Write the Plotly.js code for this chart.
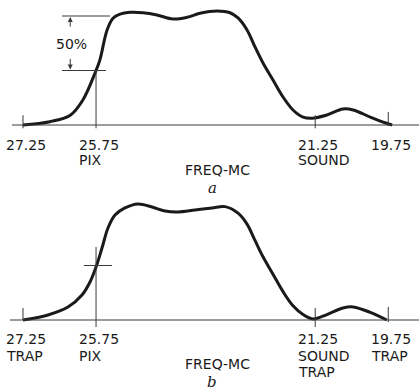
<!DOCTYPE html>
<html>
<head>
<meta charset="utf-8">
<script src="https://cdn.plot.ly/plotly-3.0.1.min.js"></script>
<style>html,body{margin:0;padding:0;background:#fff;}#chart{width:419px;height:392px;}</style>
</head>
<body>
<div id="chart"></div>
<script>
// Frequencies (MC) and relative response, panel a
const freqA = [27.25, 26.70, 26.28, 26.02, 25.75, 25.669, 25.525, 25.402, 25.258, 25.053, 24.786, 24.498, 24.17, 23.882, 23.615, 23.266, 22.999, 22.835, 22.65, 22.486, 22.322, 22.117, 21.911, 21.706, 21.50, 21.316, 21.01, 20.68, 20.47, 20.12, 19.80, 19.67];
const respA = [0.00, 0.03, 0.09, 0.23, 0.50, 0.60, 0.87, 0.98, 1.018, 1.034, 1.03, 1.009, 0.972, 0.988, 1.025, 1.046, 1.03, 0.982, 0.872, 0.716, 0.569, 0.413, 0.257, 0.138, 0.073, 0.062, 0.092, 0.147, 0.138, 0.073, 0.018, 0.00];
// panel b (with traps)
const freqB = [27.25, 26.737, 26.326, 26.039, 25.874, 25.75, 25.628, 25.505, 25.361, 25.156, 24.889, 24.601, 24.334, 24.067, 23.718, 23.369, 23.102, 22.835, 22.65, 22.486, 22.322, 22.117, 21.911, 21.706, 21.50, 21.30, 21.01, 20.68, 20.47, 20.12, 19.78];
const respB = [0.00, 0.046, 0.119, 0.229, 0.349, 0.486, 0.66, 0.844, 0.963, 1.028, 1.064, 1.037, 1.00, 0.991, 1.009, 1.028, 1.040, 0.98, 0.88, 0.73, 0.58, 0.42, 0.26, 0.13, 0.05, 0.01, 0.05, 0.11, 0.12, 0.07, 0.00];

// Tick labels
const tickFreqs = [27.25, 25.75, 21.25, 19.75];
const tickLabels = ['27.25', '25.75', '21.25', '19.75'];
const subLabelsA = [[], ['PIX'], ['SOUND'], []];
const subLabelsB = [['TRAP'], ['PIX'], ['SOUND', 'TRAP'], ['TRAP']];
const axisTitle = 'FREQ-MC';
const panelLetters = ['a', 'b'];
const halfLabel = '50%';

const ink = '#1a1a1a';
const thin = '#3a3a3a';
const font = {family: 'DejaVu Sans, sans-serif', size: 14, color: ink};

const traces = [
  {x: freqA, y: respA, yaxis: 'y', mode: 'lines', line: {color: ink, width: 3, shape: 'spline', smoothing: 1}, hoverinfo: 'skip'},
  {x: freqB, y: respB, yaxis: 'y2', mode: 'lines', line: {color: ink, width: 3, shape: 'spline', smoothing: 1}, hoverinfo: 'skip'}
];

const shapes = [];
function seg(x0, x1, y0, y1, yref, xref) {
  shapes.push({type: 'line', xref: xref || 'x', yref: yref, x0: x0, x1: x1, y0: y0, y1: y1, line: {color: thin, width: 1}});
}
// baselines
seg(27.476, 19.0, 0, 0, 'y');
seg(27.517, 19.0, 0, 0, 'y2');
// panel a ticks
seg(tickFreqs[0], tickFreqs[0], -0.03, 0.09, 'y');
seg(tickFreqs[1], tickFreqs[1], -0.03, 0.5, 'y');
seg(tickFreqs[2], tickFreqs[2], -0.03, 0.09, 'y');
seg(tickFreqs[3], tickFreqs[3], -0.01, 0.12, 'y');
// 100% and 50% reference lines
seg(26.45, 25.464, 1.0, 1.0, 'y');
seg(26.45, 25.546, 0.5, 0.5, 'y');
// panel b ticks
seg(tickFreqs[0], tickFreqs[0], 0, 0.11, 'y2');
seg(tickFreqs[1], tickFreqs[1], -0.064, 0.67, 'y2');
seg(25.42, 26.0, 0.5, 0.5, 'y2');
seg(tickFreqs[2], tickFreqs[2], -0.064, 0.11, 'y2');
seg(tickFreqs[3], tickFreqs[3], -0.02, 0.12, 'y2');

const annotations = [];
function label(text, x, y, yref, opts) {
  annotations.push(Object.assign({text: text, x: x, y: y, xref: 'x', yref: yref, showarrow: false,
    xanchor: 'left', yanchor: 'middle', font: font, xshift: -19}, opts || {}));
}
const rowsA = [-0.1835, -0.321];
const rowsB = [-0.174, -0.330, -0.477];
tickFreqs.forEach((f, i) => {
  label(tickLabels[i], f, rowsA[0], 'y');
  subLabelsA[i].forEach((s, j) => label(s, f, rowsA[j + 1], 'y'));
  label(tickLabels[i], f, rowsB[0], 'y2');
  subLabelsB[i].forEach((s, j) => label(s, f, rowsB[j + 1], 'y2'));
});
label(axisTitle, 23.266, -0.413, 'y', {xanchor: 'center', xshift: 0});
label(axisTitle, 23.266, -0.404, 'y2', {xanchor: 'center', xshift: 0});
const letterFont = {family: 'DejaVu Serif, serif', size: 15, color: ink};
label('<i>' + panelLetters[0] + '</i>', 23.35, -0.578, 'y', {xanchor: 'center', xshift: 0, font: letterFont});
label('<i>' + panelLetters[1] + '</i>', 23.37, -0.57, 'y2', {xanchor: 'center', xshift: 0, font: letterFont});
label(halfLabel, 26.25, 0.745, 'y', {xanchor: 'center', xshift: 0});
// arrows
annotations.push({x: 26.28, y: 0.99, xref: 'x', yref: 'y', ax: 0, ay: 11, text: '', showarrow: true, arrowhead: 2, arrowsize: 1, arrowwidth: 1, arrowcolor: thin});
annotations.push({x: 26.28, y: 0.51, xref: 'x', yref: 'y', ax: 0, ay: -12, text: '', showarrow: true, arrowhead: 2, arrowsize: 1, arrowwidth: 1, arrowcolor: thin});

const hidden = {visible: false, showgrid: false, zeroline: false, fixedrange: true};
const layout = {
  width: 419, height: 392,
  margin: {l: 0, r: 0, t: 0, b: 0},
  paper_bgcolor: '#fff', plot_bgcolor: '#fff',
  showlegend: false,
  xaxis: Object.assign({range: [27.722, 19.119]}, hidden),
  yaxis: Object.assign({range: [-2.4495, 1.1468]}, hidden),
  yaxis2: Object.assign({range: [-0.6606, 2.9358], overlaying: 'y'}, hidden),
  shapes: shapes,
  annotations: annotations
};
Plotly.newPlot('chart', traces, layout, {staticPlot: true, displayModeBar: false});
</script>
</body>
</html>
